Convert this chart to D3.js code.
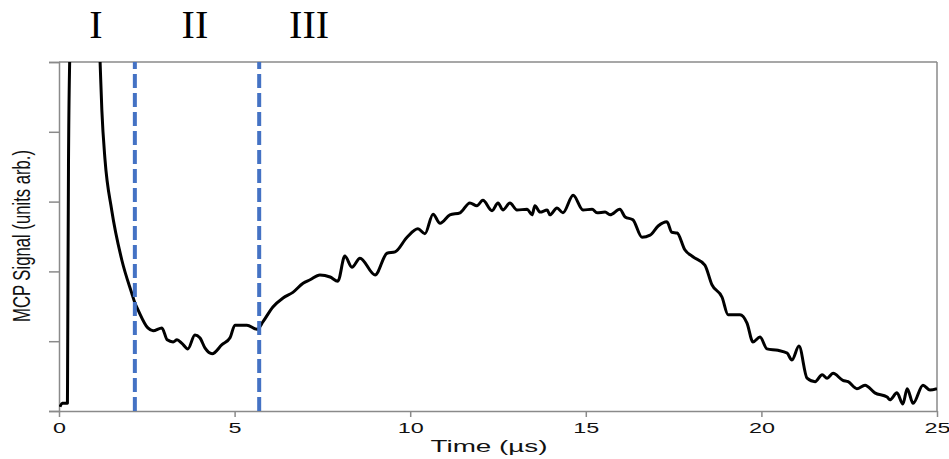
<!DOCTYPE html>
<html>
<head>
<meta charset="utf-8">
<script src="https://cdn.jsdelivr.net/npm/d3@7"></script>
<style>
  html, body { margin: 0; padding: 0; background: #fff; }
  svg { display: block; }
</style>
</head>
<body>
<svg id="chart" width="949" height="459"></svg>
<script>
// ---- data ----
const time = [0.03,0.09,0.24,0.245,0.27,0.31,0.36,1.08,1.17,1.22,1.31,1.50,1.79,2.07,2.16,2.25,2.53,2.68,2.93,3.08,3.25,3.36,3.50,3.67,3.87,4.01,4.16,4.36,4.64,4.87,5.01,5.35,5.64,5.81,6.09,6.38,6.66,6.95,7.15,7.43,7.72,7.94,8.14,8.34,8.57,9.00,9.34,9.57,9.91,10.22,10.42,10.65,10.85,11.13,11.42,11.70,11.90,12.07,12.33,12.50,12.64,12.84,13.04,13.33,13.47,13.55,13.70,13.90,13.98,14.18,14.35,14.64,14.92,15.18,15.32,15.55,15.69,15.97,16.12,16.34,16.60,16.83,17.06,17.31,17.45,17.60,17.82,18.05,18.39,18.59,18.88,19.05,19.39,19.59,19.76,19.96,20.16,20.47,20.73,20.87,21.07,21.30,21.53,21.73,21.87,22.04,22.32,22.47,22.72,22.95,23.23,23.58,23.66,23.86,24.03,24.15,24.32,24.60,24.80,25.00];
const signal = [0.06,0.11,0.11,0.62,3.51,5.2,6.5,6.2,5.0,4.31,3.60,2.88,2.16,1.69,1.55,1.45,1.19,1.15,1.19,1.02,0.99,1.02,0.97,0.89,1.09,1.05,0.90,0.82,0.95,1.05,1.23,1.23,1.17,1.28,1.49,1.62,1.70,1.83,1.88,1.95,1.92,1.86,2.22,2.06,2.19,1.95,2.26,2.28,2.49,2.61,2.54,2.82,2.69,2.81,2.84,2.98,2.94,3.02,2.87,2.98,2.88,2.98,2.88,2.89,2.81,2.94,2.85,2.88,2.81,2.91,2.84,3.09,2.88,2.89,2.84,2.85,2.81,2.89,2.78,2.74,2.49,2.52,2.65,2.71,2.56,2.55,2.31,2.21,2.09,1.81,1.63,1.38,1.38,1.26,0.99,1.06,0.89,0.87,0.83,0.73,0.93,0.47,0.42,0.52,0.47,0.54,0.44,0.42,0.32,0.37,0.26,0.20,0.16,0.26,0.10,0.32,0.11,0.37,0.30,0.32];
const xTicks = [0, 5, 10, 15, 20, 25];
const yTicks = [0, 1, 2, 3, 4, 5];
const regionBounds = [2.16, 5.70];
const regionLabels = ["I", "II", "III"];
const regionCenters = [1.05, 3.87, 7.12];

// ---- layout ----
const svg = d3.select("#chart");
const L = 59, R = 937, T = 62, B = 411;
const x = d3.scaleLinear().domain([0, 25]).range([L, R]);
const y = d3.scaleLinear().domain([0, 5]).range([B, T]);
const axisColor = "#8a8a8a";

svg.append("defs").append("clipPath").attr("id", "plotclip")
  .append("rect").attr("x", L).attr("y", T).attr("width", R - L).attr("height", B - T);

// y axis (no labels, outward ticks)
const yAxis = svg.append("g").attr("transform", `translate(${L},0)`)
  .call(d3.axisLeft(y).tickValues(yTicks).tickSize(10).tickFormat(""));
yAxis.select(".domain").attr("stroke", axisColor).attr("stroke-width", 1.5);
yAxis.selectAll(".tick line").attr("stroke", axisColor).attr("stroke-width", 1.5);

// x axis
const xAxis = svg.append("g").attr("transform", `translate(0,${B})`)
  .call(d3.axisBottom(x).tickValues(xTicks).tickSize(6).tickSizeOuter(0).tickPadding(6).tickFormat(d3.format("d")));
xAxis.select(".domain").attr("stroke", axisColor).attr("stroke-width", 1.5);
xAxis.selectAll(".tick line").attr("stroke", axisColor).attr("stroke-width", 1.5);
xAxis.selectAll(".tick text")
  .attr("font-family", "Liberation Sans, Arial, sans-serif")
  .attr("font-size", 14)
  .attr("fill", "#111")
  .attr("textLength", d => String(d).length * 13)
  .attr("lengthAdjust", "spacingAndGlyphs");

// top and right frame lines
svg.append("line").attr("x1", L).attr("x2", R).attr("y1", T).attr("y2", T)
  .attr("stroke", axisColor).attr("stroke-width", 1.5);
svg.append("line").attr("x1", R).attr("x2", R).attr("y1", T).attr("y2", B)
  .attr("stroke", axisColor).attr("stroke-width", 1.5);

// signal line
const line = d3.line().x((d, i) => x(time[i])).y((d, i) => y(signal[i])).curve(d3.curveMonotoneX);
svg.append("path")
  .attr("clip-path", "url(#plotclip)")
  .attr("d", line(signal))
  .attr("fill", "none")
  .attr("stroke", "#000")
  .attr("stroke-width", 3)
  .attr("stroke-linejoin", "round");

// region boundaries
svg.selectAll(".bound").data(regionBounds).enter().append("line")
  .attr("class", "bound")
  .attr("x1", d => x(d)).attr("x2", d => x(d))
  .attr("y1", B).attr("y2", T)
  .attr("stroke", "#4472C4").attr("stroke-width", 4)
  .attr("stroke-dasharray", "14,5");

// region labels
svg.selectAll(".region").data(regionLabels).enter().append("text")
  .attr("class", "region")
  .attr("x", (d, i) => x(regionCenters[i]))
  .attr("y", 38)
  .attr("text-anchor", "middle")
  .attr("font-family", "Liberation Serif, Times New Roman, serif")
  .attr("font-size", 40)
  .attr("fill", "#000")
  .text(d => d);

// axis titles
svg.append("text")
  .attr("x", 489).attr("y", 452)
  .attr("text-anchor", "middle")
  .attr("font-family", "Liberation Sans, Arial, sans-serif")
  .attr("font-size", 16)
  .attr("fill", "#111")
  .attr("textLength", 117)
  .attr("lengthAdjust", "spacingAndGlyphs")
  .text("Time (µs)");

svg.append("text")
  .attr("transform", "translate(29.5,236) scale(1.5,1) rotate(-90)")
  .attr("text-anchor", "middle")
  .attr("font-family", "Liberation Sans Narrow, Arial Narrow, Liberation Sans, sans-serif")
  .attr("font-size", 16)
  .attr("fill", "#111")
  .attr("textLength", 172)
  .attr("lengthAdjust", "spacingAndGlyphs")
  .text("MCP Signal (units arb.)");
</script>
</body>
</html>
